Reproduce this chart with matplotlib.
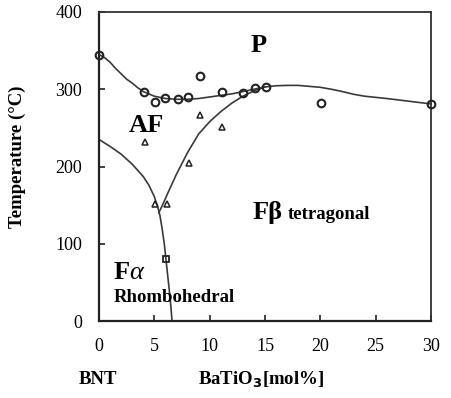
import matplotlib.pyplot as plt

# ── data ───────────────────────────────────────────────────────────────────
# upper boundary (AF / Fβ  ->  P)
upper_x = [0, 0.5, 1, 1.5, 2, 2.5, 3, 3.5, 4, 5, 6, 7, 8, 9, 10, 11, 12, 13,
           14, 15, 16, 17, 18, 20, 21, 22, 23, 24, 25, 26, 28, 30]
upper_t = [345, 341, 335, 327, 320, 313, 308, 302, 297, 291, 288, 287, 287,
           288, 290, 292, 294, 297, 300, 303, 304.5, 305, 305, 302.5, 300,
           297, 293.5, 291, 289.5, 288, 284.5, 281]

# Fα boundary (AF -> Fα, continued down to 0 °C)
alpha_x = [0, 1, 2, 3, 4, 4.5, 5, 5.3, 5.5, 5.7, 5.9, 6.05, 6.2, 6.35, 6.5, 6.6]
alpha_t = [235, 226, 216, 203, 187, 176, 161, 148, 137, 120, 100, 80, 60, 40,
           18, 0]

# AF -> Fβ boundary
beta_x = [5.4, 5.8, 6.2, 7, 8, 9, 10, 11, 12, 13, 14, 15]
beta_t = [140, 152, 165, 190, 218, 242, 258, 271, 282, 291, 298, 303]

# measured points
circ_x = [0, 4.1, 5.1, 6, 7.1, 8, 9.1, 11.1, 13, 14.1, 15.1, 20.1, 30]
circ_t = [344, 296, 284, 289, 287, 290, 317, 296, 295, 302, 303, 282, 281]
tri_x = [4.2, 5.1, 6.1, 8.1, 9.1, 11.1]
tri_t = [232, 151, 151, 205, 267, 251]
sq_x = [6.05]
sq_t = [80]

x_ticks = [0, 5, 10, 15, 20, 25, 30]
y_ticks = [0, 100, 200, 300, 400]

SERIF = ["Liberation Serif", "DejaVu Serif"]
C_LINE = "#3a3a3a"

plt.rcParams["font.family"] = SERIF

fig = plt.figure(figsize=(4.52, 3.98), dpi=100)
ax = fig.add_axes([99 / 452, 1 - 321 / 398, 332 / 452, 309 / 398])

ax.plot(upper_x, upper_t, color=C_LINE, lw=1.2, clip_on=False)
ax.plot(alpha_x, alpha_t, color=C_LINE, lw=1.2, clip_on=False)
ax.plot(beta_x, beta_t, color=C_LINE, lw=1.2, clip_on=False)

ax.plot(circ_x, circ_t, "o", ms=5.5, mfc="none", mec="#222222", mew=1.5,
        clip_on=False, zorder=5)
ax.plot(tri_x, tri_t, "^", ms=4, mfc="none", mec="#222222", mew=1.1,
        clip_on=False, zorder=5)
ax.plot(sq_x, sq_t, "s", ms=5, mfc="none", mec="#222222", mew=1.3,
        clip_on=False, zorder=5)

ax.set_xlim(0, 30)
ax.set_ylim(0, 400)
ax.set_xticks(x_ticks)
ax.set_yticks(y_ticks)
ax.tick_params(direction="in", length=4, width=1.2, labelsize=13, color="#222222")
ax.tick_params(axis="x", pad=12)
ax.tick_params(axis="y", pad=12)

for side in ["left", "bottom"]:
    ax.spines[side].set_linewidth(1.6)
    ax.spines[side].set_color("#222222")
for side in ["top", "right"]:
    ax.spines[side].set_linewidth(1.3)
    ax.spines[side].set_color("#333333")

# ── labels ─────────────────────────────────────────────────────────────────
fig.text(17 / 452, 1 - 157 / 398, "Temperature (°C)", rotation=90,
         fontsize=13.5, fontweight="bold", ha="center", va="center")
fig.text(98 / 452, 1 - 380 / 398, "BNT", fontsize=13.5, fontweight="bold",
         ha="center", va="center")
fig.text(198 / 452, 1 - 380 / 398, r"BaTiO$_\mathbf{3}$[mol%]", fontsize=13.5,
         fontweight="bold", ha="left", va="center")

ax.text(14.4, 357, "P", fontsize=19, fontweight="bold", ha="center", va="center")
ax.text(4.3, 253, "AF", fontsize=19, fontweight="bold", ha="center", va="center")
ax.text(13.9, 132, "Fβ", fontsize=19, fontweight="bold", ha="left",
        va="baseline")
ax.text(17.1, 132, "tetragonal", fontsize=13.5, fontweight="bold", ha="left",
        va="baseline")
ax.text(1.35, 54, "F", fontsize=19, fontweight="bold", ha="left",
        va="baseline")
ax.text(2.7, 54, "α", fontsize=19, style="italic", ha="left", va="baseline")
ax.text(1.35, 30, "Rhombohedral", fontsize=13.5, fontweight="bold", ha="left",
        va="center")

plt.savefig("out.png", dpi=100, facecolor="white")
plt.close()
